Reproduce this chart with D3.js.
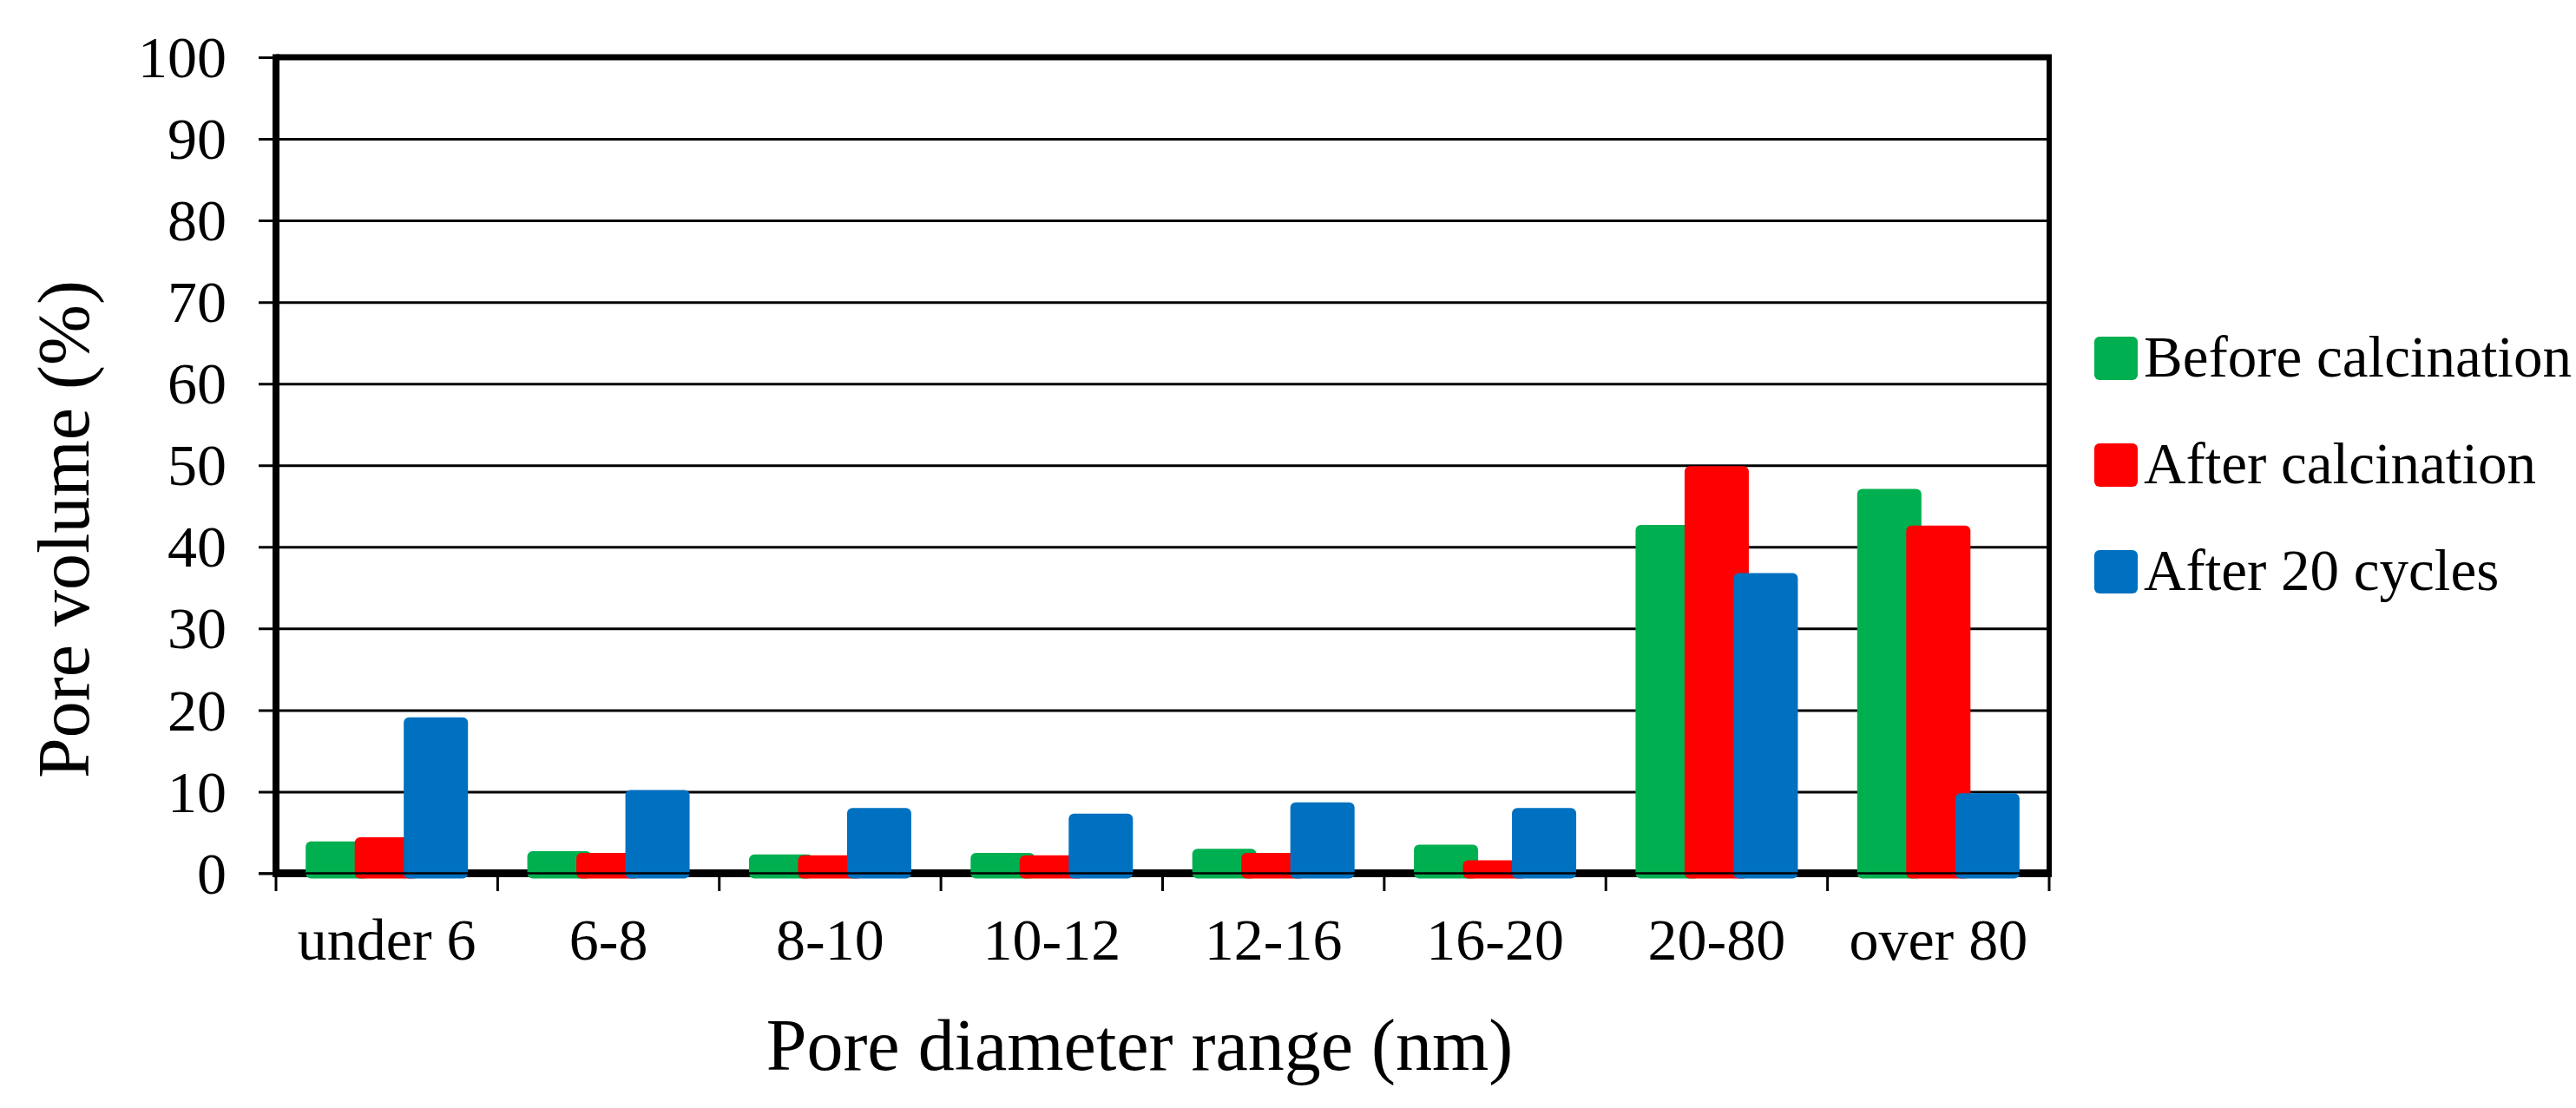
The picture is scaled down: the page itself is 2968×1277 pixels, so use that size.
<!DOCTYPE html>
<html>
<head>
<meta charset="utf-8">
<script src="https://cdn.jsdelivr.net/npm/d3@7"></script>
<style>
  body { margin: 0; background: #fff; }
  svg { display: block; font-family: "Liberation Serif", "Times New Roman", serif; }
</style>
</head>
<body>
<svg id="chart" width="2968" height="1277"></svg>
<script>
var categories = ["under 6", "6-8", "8-10", "10-12", "12-16", "16-20", "20-80", "over 80"];
var seriesNames = ["Before calcination", "After calcination", "After 20 cycles"];
var seriesColors = ["#00B050", "#FF0000", "#0070C0"];
var beforeCalc = [3.9, 2.7, 2.3, 2.5, 3.0, 3.5, 42.7, 47.1];
var afterCalc = [4.4, 2.5, 2.2, 2.2, 2.5, 1.6, 49.9, 42.6];
var after20 = [19.1, 10.2, 8.0, 7.3, 8.7, 8.0, 36.8, 9.8];
var yTicks = [0, 10, 20, 30, 40, 50, 60, 70, 80, 90, 100];

var seriesValues = [beforeCalc, afterCalc, after20];

// note: "top" is taken by window.top, so plot* names
var plotLeft = 318, plotRight = 2361, plotTop = 66, plotBottom = 1006.5;

var svg = d3.select("#chart");

var x = d3.scaleBand().domain(categories).range([plotLeft, plotRight]);
var y = d3.scaleLinear().domain([0, 100]).range([plotBottom, plotTop]);

// bars overlap a bit, like the original
var barW = 74;
var step = 56.5;
var inner = (x.bandwidth() - (2 * step + barW)) / 2;
var xs = d3.scaleLinear().domain([0, 2]).range([inner, inner + 2 * step]);

// grid lines + y ticks
var yAxis = d3.axisLeft(y)
	.tickValues(yTicks)
	.tickSize(-(plotRight - plotLeft))
	.tickPadding(0)
	.tickFormat("");
var gy = svg.append("g").attr("transform", "translate(" + plotLeft + ",0)").call(yAxis);
gy.select(".domain").remove();
gy.selectAll(".tick line")
	.attr("x1", -20)
	.attr("stroke", "#000")
	.attr("stroke-width", 3);

svg.selectAll(".ylab")
	.data(yTicks)
	.enter().append("text")
	.attr("class", "ylab")
	.attr("x", 261)
	.attr("y", function(d) { return y(d); })
	.attr("dy", "0.34em")
	.attr("text-anchor", "end")
	.attr("font-size", 68)
	.text(function(d) { return d; });

// thick bottom axis band (bars sit over it)
svg.append("line")
	.attr("x1", plotLeft - 4).attr("x2", plotRight + 3)
	.attr("y1", 1006.5).attr("y2", 1006.5)
	.attr("stroke", "#000").attr("stroke-width", 9);

// category boundary ticks
var bounds = categories.map(function(c) { return x(c); }).concat([plotRight]);
svg.selectAll(".xtick")
	.data(bounds)
	.enter().append("line")
	.attr("x1", function(d) { return d; })
	.attr("x2", function(d) { return d; })
	.attr("y1", 1010).attr("y2", 1027)
	.attr("stroke", "#000").attr("stroke-width", 3);

// bars
for (var s = 0; s < seriesValues.length; s++) {
	svg.append("g").selectAll("rect")
		.data(seriesValues[s])
		.enter().append("rect")
		.attr("x", function(d, i) { return x(categories[i]) + xs(s); })
		.attr("y", function(d) { return y(d); })
		.attr("width", barW)
		.attr("height", function(d) { return 1012.5 - y(d); })
		.attr("rx", 6)
		.attr("fill", seriesColors[s]);
}

// zero line drawn over bars
svg.append("line")
	.attr("x1", plotLeft - 20).attr("x2", plotRight)
	.attr("y1", y(0)).attr("y2", y(0))
	.attr("stroke", "#000").attr("stroke-width", 2.5);

// frame: left axis, top, right
svg.append("line").attr("x1", plotLeft).attr("x2", plotLeft).attr("y1", plotTop - 3.5).attr("y2", 1011)
	.attr("stroke", "#000").attr("stroke-width", 8);
svg.append("line").attr("x1", plotLeft).attr("x2", plotRight + 3).attr("y1", plotTop).attr("y2", plotTop)
	.attr("stroke", "#000").attr("stroke-width", 7);
svg.append("line").attr("x1", plotRight).attr("x2", plotRight).attr("y1", plotTop).attr("y2", 1011)
	.attr("stroke", "#000").attr("stroke-width", 6);

// category labels
svg.selectAll(".xlab")
	.data(categories)
	.enter().append("text")
	.attr("class", "xlab")
	.attr("x", function(d) { return x(d) + x.bandwidth() / 2; })
	.attr("y", 1106)
	.attr("text-anchor", "middle")
	.attr("font-size", 68)
	.text(function(d) { return d; });

// axis titles
svg.append("text")
	.attr("x", 1313).attr("y", 1233)
	.attr("text-anchor", "middle")
	.attr("font-size", 84)
	.text("Pore diameter range (nm)");

svg.append("text")
	.attr("transform", "translate(102,610) rotate(-90)")
	.attr("text-anchor", "middle")
	.attr("font-size", 84)
	.text("Pore volume (%)");

// legend
var legend = svg.append("g").selectAll("g")
	.data(seriesNames)
	.enter().append("g")
	.attr("transform", function(d, i) { return "translate(2413," + (388 + i * 123) + ")"; });
legend.append("rect")
	.attr("width", 50).attr("height", 50).attr("rx", 6)
	.attr("fill", function(d, i) { return seriesColors[i]; });
legend.append("text")
	.attr("x", 57).attr("y", 46)
	.attr("font-size", 67)
	.text(function(d) { return d; });
</script>
</body>
</html>
